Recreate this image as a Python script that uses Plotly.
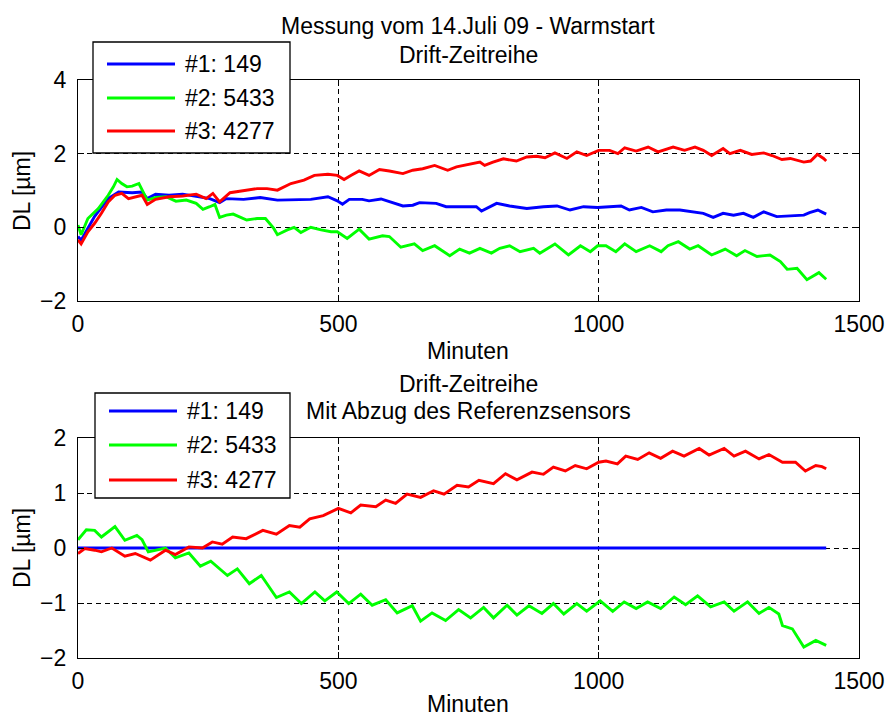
import plotly.graph_objects as go

# ---------------- data ----------------
# Top panel: raw drift time series (minutes, DL in um)
t_top_1 = [0, 6, 32, 58, 78, 104, 123, 133, 149, 175, 201, 227, 253, 272, 285, 318, 350, 383, 415, 447, 480,
           498, 508, 521, 546, 559, 582, 604, 624, 643, 656, 688, 707, 739, 765, 775, 791, 804, 829, 862, 894, 920, 945, 971,
           998, 1024, 1043, 1059, 1082, 1104, 1130, 1156, 1181, 1201, 1220, 1239, 1259, 1278, 1297, 1317, 1342, 1368,
           1394, 1405, 1421, 1431, 1437]
dl_top_1 = [-0.25, -0.35, 0.30, 0.78, 0.96, 0.94, 0.96, 0.78, 0.90, 0.87, 0.90, 0.83, 0.78, 0.67, 0.78, 0.76, 0.81, 0.74, 0.74, 0.76, 0.83,
            0.72, 0.63, 0.76, 0.76, 0.72, 0.77, 0.67, 0.58, 0.60, 0.67, 0.65, 0.56, 0.56, 0.56, 0.44, 0.56, 0.65, 0.58, 0.51, 0.56, 0.58, 0.47, 0.56,
            0.54, 0.56, 0.58, 0.47, 0.54, 0.42, 0.47, 0.47, 0.42, 0.38, 0.27, 0.38, 0.33, 0.38, 0.27, 0.42, 0.29, 0.31,
            0.33, 0.40, 0.47, 0.40, 0.36]

t_top_2 = [0, 6, 19, 39, 58, 68, 75, 84, 94, 104, 117, 126, 133, 149, 169, 188, 208, 227, 240, 253, 263, 272, 285, 298, 311, 324,
           344, 360, 376, 383, 402, 415, 428, 447, 467, 486,
           498, 517, 540, 559, 585, 598, 620, 646, 662, 685, 714, 733, 752, 772, 794, 810, 829, 849, 875, 887, 916, 942, 965, 984,
           998, 1014, 1033, 1050, 1072, 1098, 1120, 1133, 1153, 1175, 1191, 1217, 1243, 1265, 1281, 1304, 1329, 1349, 1362,
           1381, 1400, 1423, 1437]
dl_top_2 = [0.06, -0.20, 0.24, 0.51, 0.87, 1.10, 1.30, 1.19, 1.10, 1.12, 1.19, 0.96, 0.74, 0.81, 0.83, 0.71, 0.74, 0.65, 0.49, 0.56, 0.62, 0.27, 0.33, 0.36, 0.29, 0.20,
            0.24, 0.24, -0.03, -0.20, -0.07, 0.00, -0.14, 0.00, -0.07, -0.12,
            -0.12, -0.30, -0.05, -0.32, -0.23, -0.25, -0.54, -0.45, -0.63, -0.50, -0.77, -0.59, -0.70, -0.57, -0.70, -0.57, -0.50, -0.66, -0.57, -0.70, -0.45, -0.75, -0.50, -0.66,
            -0.50, -0.50, -0.66, -0.45, -0.66, -0.50, -0.66, -0.50, -0.39, -0.59, -0.50, -0.75, -0.59, -0.77, -0.63, -0.79, -0.75, -0.93, -1.14,
            -1.11, -1.42, -1.23, -1.41]

t_top_3 = [0, 6, 19, 32, 45, 58, 71, 84, 97, 117, 123, 133, 149, 175, 201, 227, 246, 259, 272, 292, 318, 344, 363, 383, 409, 434, 454, 480,
           498, 511, 524, 540, 559, 579, 598, 624, 643, 662, 685, 710, 727, 749, 772, 781, 797, 817, 842, 862, 881, 897, 916, 939, 958, 977, 1000,
           1021, 1037, 1050, 1072, 1095, 1114, 1143, 1165, 1185, 1201, 1217, 1239, 1252, 1272, 1294, 1317, 1333, 1352, 1368,
           1394, 1407, 1420, 1432, 1437]
dl_top_3 = [-0.34, -0.45, -0.12, 0.11, 0.38, 0.69, 0.87, 0.92, 0.78, 0.85, 0.87, 0.62, 0.76, 0.83, 0.85, 0.90, 0.78, 0.92, 0.69, 0.94, 0.99, 1.05, 1.05, 1.01, 1.19, 1.28, 1.41, 1.44,
            1.41, 1.30, 1.41, 1.53, 1.41, 1.57, 1.53, 1.46, 1.55, 1.59, 1.68, 1.55, 1.64, 1.71, 1.77, 1.68, 1.77, 1.86, 1.80, 1.91, 1.93, 1.89, 2.02, 1.87, 2.05, 1.95, 2.09,
            2.09, 2.00, 2.16, 2.07, 2.18, 2.05, 2.18, 2.09, 2.18, 2.09, 1.95, 2.14, 2.00, 2.09, 1.98, 2.02, 1.95, 1.84, 1.87,
            1.77, 1.80, 1.98, 1.87, 1.80]

# Bottom panel: drift after subtracting the reference sensor (#1)
t_bot_1 = [0, 1437]
dl_bot_1 = [0.0, 0.0]

t_bot_2 = [0, 16, 32, 45, 71, 90, 113, 123, 135, 152, 168, 187, 213, 235, 255, 287, 306, 329, 352, 381, 406, 429, 455, 474, 497,
           520, 543, 565, 591, 613, 642, 658, 680, 706, 731, 754, 779, 798, 824, 843, 866, 891, 913, 933, 958, 977, 1003,
           1027, 1049, 1072, 1094, 1119, 1145, 1167, 1190, 1215, 1241, 1260, 1286, 1308, 1327, 1346, 1353, 1372, 1394, 1417, 1437]
dl_bot_2 = [0.15, 0.33, 0.32, 0.20, 0.39, 0.14, 0.23, 0.15, -0.07, -0.04, 0.00, -0.18, -0.09, -0.33, -0.24, -0.50, -0.38, -0.65, -0.50, -0.90, -0.80, -1.01, -0.80, -0.96, -0.80,
            -1.01, -0.84, -1.04, -0.94, -1.18, -1.05, -1.33, -1.18, -1.32, -1.12, -1.27, -1.08, -1.27, -1.04, -1.22, -1.05, -1.19, -1.01, -1.20, -1.01, -1.15, -0.96,
            -1.15, -0.98, -1.10, -0.98, -1.10, -0.89, -1.03, -0.87, -1.07, -0.98, -1.15, -0.98, -1.19, -1.08, -1.20, -1.41, -1.47, -1.80, -1.68, -1.77]

t_bot_3 = [0, 13, 32, 45, 65, 90, 110, 139, 168, 187, 213, 239, 258, 277, 297, 323, 355, 381, 406, 426, 445, 471, 500,
           524, 543, 572, 591, 610, 632, 658, 683, 703, 728, 750, 770, 798, 821, 843, 872, 894, 913, 936, 955, 977, 1000,
           1014, 1036, 1052, 1075, 1097, 1119, 1142, 1164, 1193, 1212, 1241, 1260, 1282, 1308, 1327, 1353, 1378, 1397, 1417, 1429, 1437]
dl_bot_3 = [-0.10, -0.01, -0.04, -0.07, 0.00, -0.15, -0.10, -0.22, -0.04, -0.12, 0.02, 0.00, 0.11, 0.07, 0.20, 0.17, 0.32, 0.25, 0.41, 0.38, 0.53, 0.59, 0.72,
            0.64, 0.78, 0.75, 0.87, 0.81, 0.98, 0.92, 1.04, 0.98, 1.14, 1.11, 1.23, 1.17, 1.35, 1.24, 1.38, 1.34, 1.47, 1.40, 1.50, 1.44, 1.56,
            1.58, 1.53, 1.67, 1.61, 1.73, 1.63, 1.76, 1.67, 1.81, 1.69, 1.81, 1.67, 1.76, 1.62, 1.70, 1.56, 1.56, 1.40, 1.50, 1.48, 1.44]

series_names = ["#1: 149", "#2: 5433", "#3: 4277"]
series_colors = ["#0000FF", "#00FF00", "#FF0000"]

x_ticks = [0, 500, 1000, 1500]
y_ticks_top = [-2, 0, 2, 4]
y_ticks_bot = [-2, -1, 0, 1, 2]

# ---------------- figure ----------------
W, H = 886, 718
FONT = "Liberation Sans, Arial, sans-serif"
FS = 23
LW = 2.9


def px(x):
    return x / W


def py(y):
    return 1 - y / H


fig = go.Figure()

top = [(t_top_1, dl_top_1), (t_top_2, dl_top_2), (t_top_3, dl_top_3)]
bot = [(t_bot_1, dl_bot_1), (t_bot_2, dl_bot_2), (t_bot_3, dl_bot_3)]

for (t, v), name, col in zip(top, series_names, series_colors):
    fig.add_trace(go.Scatter(x=t, y=v, mode="lines", name=name,
                             line=dict(color=col, width=LW), xaxis="x", yaxis="y",
                             showlegend=False))
for (t, v), name, col in zip(bot, series_names, series_colors):
    fig.add_trace(go.Scatter(x=t, y=v, mode="lines", name=name,
                             line=dict(color=col, width=LW), xaxis="x2", yaxis="y2",
                             showlegend=False))

axis_common = dict(
    showline=True, linecolor="black", linewidth=1.3, mirror="ticks",
    ticks="inside", ticklen=6, tickcolor="black", tickwidth=1.3,
    showgrid=True, gridcolor="black", gridwidth=1, griddash="5px,4px",
    zeroline=False, automargin=False,
    tickfont=dict(family=FONT, size=FS, color="black"),
)

x_dom = [px(78), px(859)]
fig.update_layout(
    width=W, height=H,
    margin=dict(l=0, r=0, t=0, b=0, autoexpand=False),
    paper_bgcolor="white", plot_bgcolor="white",
    showlegend=False,
    xaxis=dict(domain=x_dom, range=[0, 1500], tickvals=x_ticks, anchor="y",
               ticklabelstandoff=2, **axis_common),
    yaxis=dict(domain=[py(301), py(80)], range=[-2, 4], tickvals=y_ticks_top, anchor="x",
               ticklabelstandoff=6, **axis_common),
    xaxis2=dict(domain=x_dom, range=[0, 1500], tickvals=x_ticks, anchor="y2",
                ticklabelstandoff=2, **axis_common),
    yaxis2=dict(domain=[py(658), py(438)], range=[-2, 2], tickvals=y_ticks_bot, anchor="x2",
                ticklabelstandoff=6, **axis_common),
)

# titles and axis labels
cx = (78 + 859) / 2
texts = [
    ("Messung vom 14.Juli 09 - Warmstart", cx, 26, 0),
    ("Drift-Zeitreihe", cx, 55, 0),
    ("Minuten", cx, 351, 0),
    ("Drift-Zeitreihe", cx, 384, 0),
    ("Mit Abzug des Referenzsensors", cx, 411, 0),
    ("Minuten", cx, 704, 0),
    ("DL [µm]", 22, 191, -90),
    ("DL [µm]", 22, 548, -90),
]
for txt, x, y, ang in texts:
    fig.add_annotation(text=txt, x=px(x), y=py(y), xref="paper", yref="paper",
                       showarrow=False, xanchor="center", yanchor="middle", textangle=ang,
                       font=dict(family=FONT, size=FS, color="black"))

# boxed legends drawn on top of each panel
legend_boxes = [
    dict(x0=93, x1=290, y0=42, y1=153, rows=[64, 98, 131]),
    dict(x0=95, x1=290, y0=393, y1=498, rows=[411, 445, 480]),
]
for box in legend_boxes:
    fig.add_shape(type="rect", xref="paper", yref="paper", layer="above",
                  x0=px(box["x0"]), x1=px(box["x1"]), y0=py(box["y1"]), y1=py(box["y0"]),
                  fillcolor="white", line=dict(color="black", width=1.3))
    for ry, name, col in zip(box["rows"], series_names, series_colors):
        fig.add_shape(type="line", xref="paper", yref="paper", layer="above",
                      x0=px(box["x0"] + 14), x1=px(box["x0"] + 82), y0=py(ry), y1=py(ry),
                      line=dict(color=col, width=LW))
        fig.add_annotation(text=name, x=px(box["x0"] + 90), y=py(ry), xref="paper", yref="paper",
                           showarrow=False, xanchor="left", yanchor="middle",
                           font=dict(family=FONT, size=FS, color="black"))

fig.write_html("out.html")
